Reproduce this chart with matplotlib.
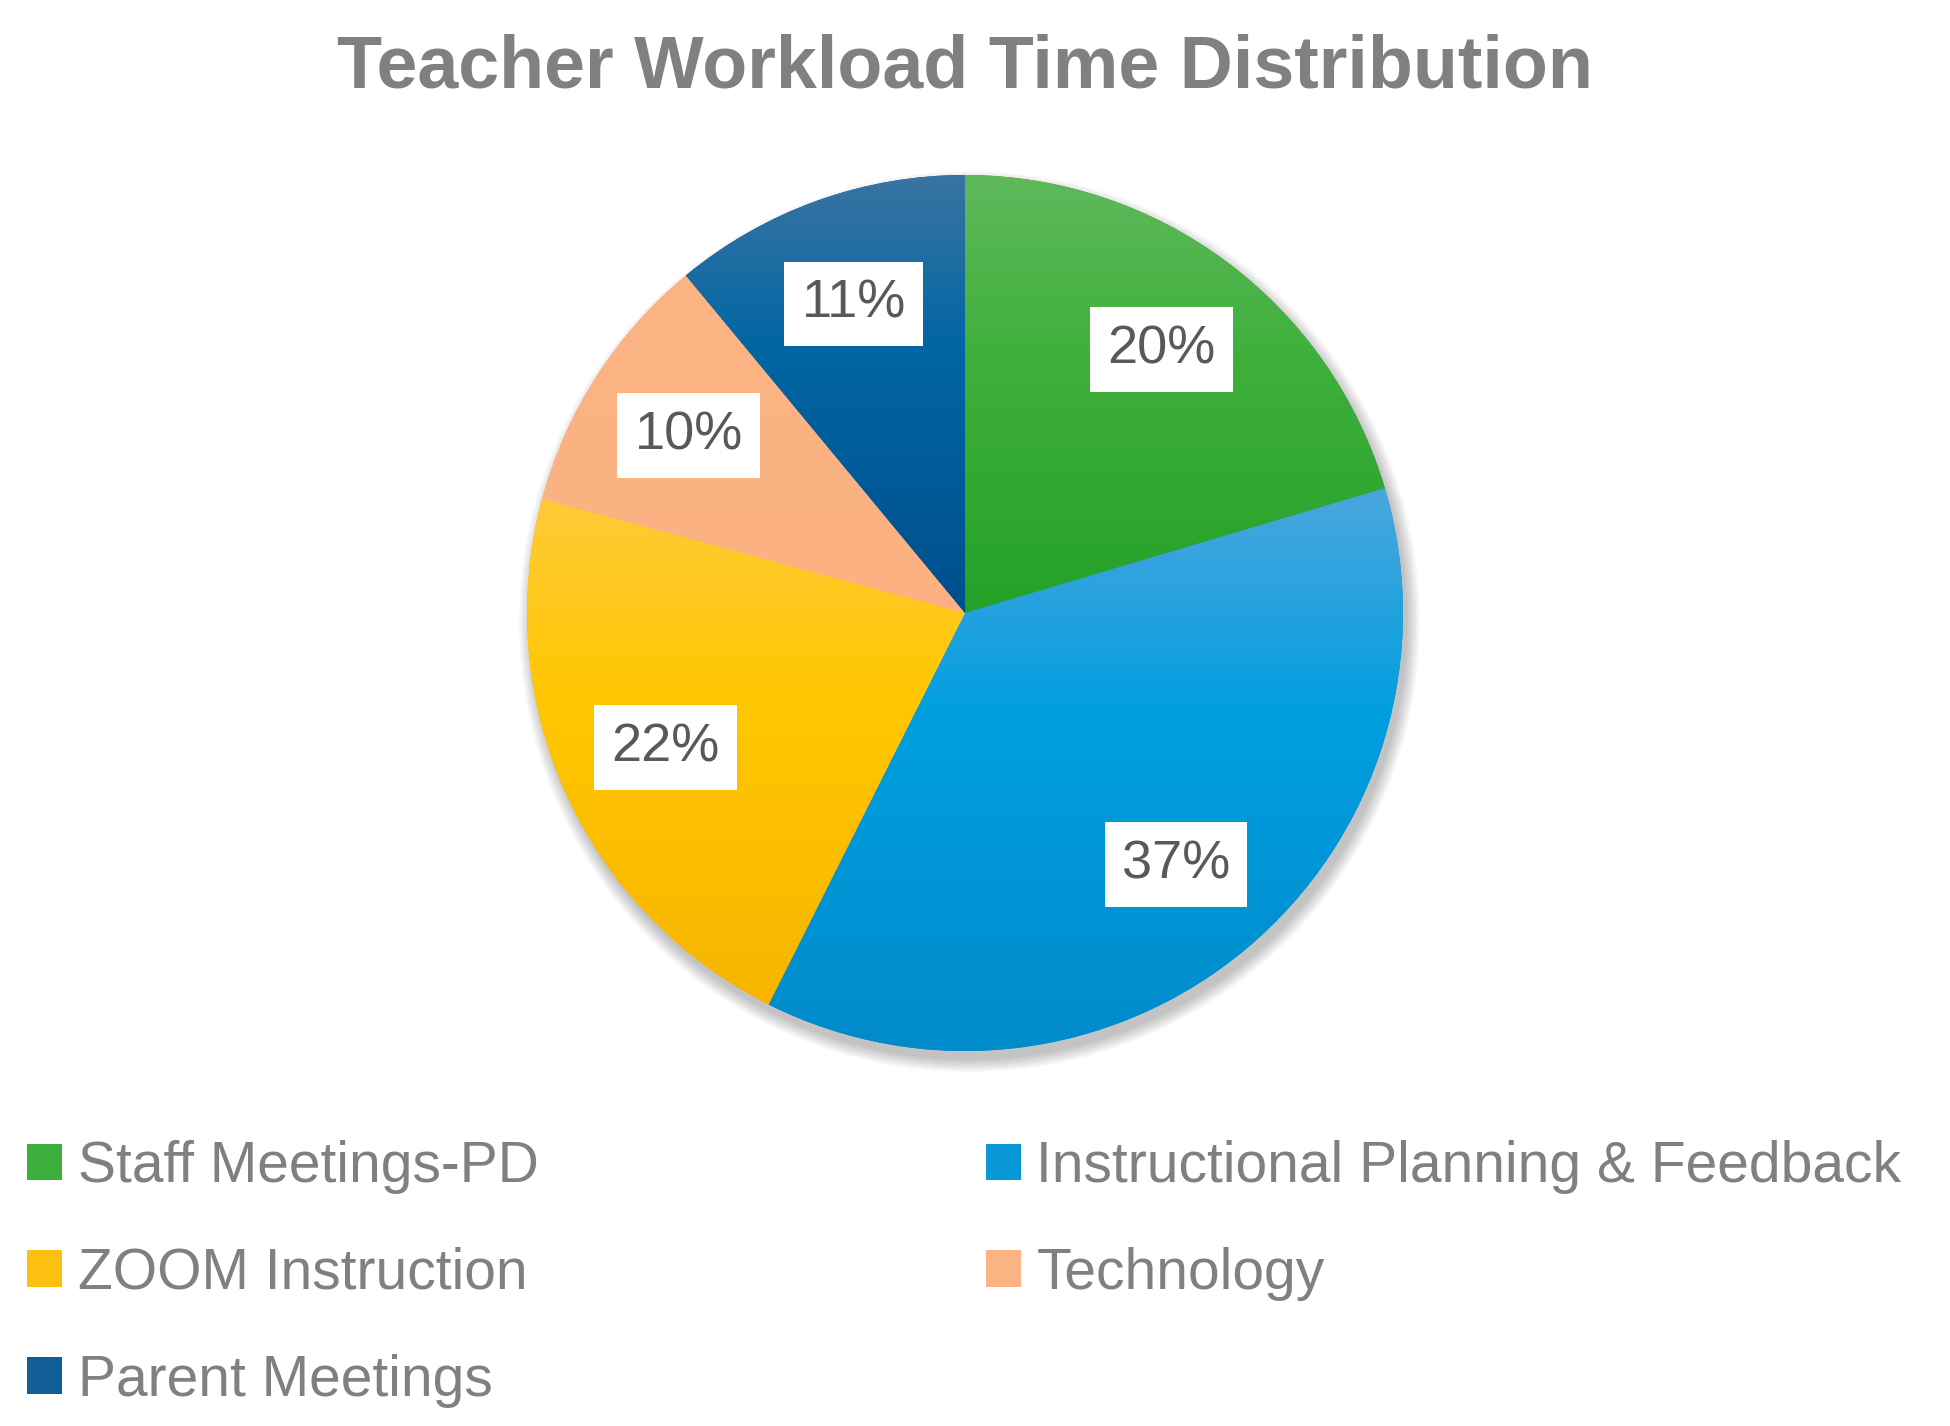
import numpy as np
import matplotlib
matplotlib.use('agg')
import matplotlib.pyplot as plt
from matplotlib.colors import LinearSegmentedColormap
from matplotlib.patches import Patch, Circle

categories = ['Staff Meetings-PD', 'Instructional Planning & Feedback',
              'ZOOM Instruction', 'Technology', 'Parent Meetings']
shares = [20.4, 37.0, 21.8, 9.8, 11.0]
top_colors = ['#5fb95b', '#4ca6dd', '#ffca38', '#fcb384', '#3a74a1']
mid_colors = ['#40b03c', '#009fe0', '#ffc700', '#fcb384', '#0066a4']
bottom_colors = ['#24a128', '#008bcb', '#f8b400', '#fbb182', '#014f8c']
legend_colors = ['#3daf3c', '#0a97d8', '#fcc010', '#fcb384', '#115f96']

plt.rcParams['font.family'] = ['Liberation Sans Narrow', 'Liberation Sans', 'DejaVu Sans']

fig = plt.figure(figsize=(19.5, 14.26), dpi=100)
ax = fig.add_axes([527/1950, 375/1426, 876/1950, 876/1426])

# soft drop shadow under the pie
for k in range(8):
    ax.add_patch(Circle((0.01, -0.02), 1.0 + 0.004*k, color='k', alpha=0.03,
                        lw=0, zorder=0, clip_on=False))

wedges, texts, autotexts = ax.pie(shares, startangle=90, counterclock=False,
                                  colors=bottom_colors, radius=1,
                                  autopct=lambda p: f'{p:.0f}%', pctdistance=0.75,
                                  wedgeprops=dict(linewidth=0, zorder=1))

# vertical gradient in each wedge
for w, c_top, c_mid, c_bot in zip(wedges, top_colors, mid_colors, bottom_colors):
    th = np.radians(np.linspace(w.theta1, w.theta2, 200))
    xs = np.append(np.cos(th), 0)
    ys = np.append(np.sin(th), 0)
    cmap = LinearSegmentedColormap.from_list('g', [(0, c_bot), (0.6, c_mid), (1, c_top)])
    grad = np.linspace(0, 1, 256).reshape(-1, 1)
    im = ax.imshow(grad, extent=[xs.min(), xs.max(), ys.min(), ys.max()],
                   origin='lower', cmap=cmap, aspect='auto', zorder=1.5)
    im.set_clip_path(w)

for t in autotexts:
    t.set_color('#595959')
    t.set_fontsize(39)
    t.set_zorder(5)
    t.set_bbox(dict(boxstyle='square,pad=0.32', fc='white', ec='none'))

ax.set_xlim(-1, 1)
ax.set_ylim(-1, 1)
ax.set_aspect('equal')
ax.axis('off')

fig.text(965/1950, 1 - 87/1426, 'Teacher Workload Time Distribution',
         ha='center', va='baseline', fontsize=53, fontweight='bold', color='#808080')

handles = [Patch(facecolor=c, edgecolor='none') for c in legend_colors]
order = [0, 2, 4, 1, 3]
fig.legend([handles[i] for i in order], [categories[i] for i in order],
           ncol=2, loc='upper left', bbox_to_anchor=(27/1950, 1 - 1140/1426),
           frameon=False, fontsize=41, handlelength=0.62, handleheight=0.62,
           handletextpad=0.27, columnspacing=7.85, labelspacing=0.93,
           labelcolor='#808080', borderaxespad=0, borderpad=0)

fig.savefig('out.png', dpi=100)
